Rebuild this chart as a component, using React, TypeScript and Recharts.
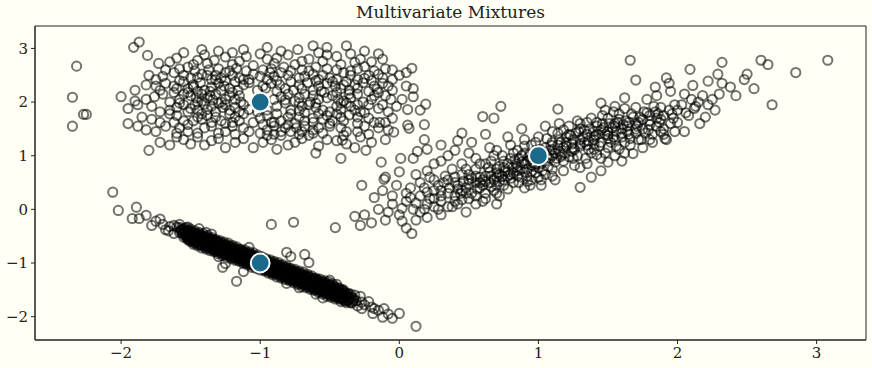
import React from "react";
import {
  ScatterChart,
  Scatter,
  XAxis,
  YAxis,
  ReferenceArea,
} from "recharts";

// points, [x, y]
const upperCluster: [number, number][] = [
  [-1.87, 3.12], [-1.91, 3.02], [-1.12, 2.98], [-0.95, 3.02], [-0.62, 3.05], [-0.52, 3.02], [-0.38, 3.05], [-0.73, 2.98], [-1.3, 2.95], [-1.42, 2.98], [-1.55, 2.92], [-0.25, 2.95],
  [-1.81, 2.87], [-1.4, 2.88], [-1.25, 2.84], [-1.1, 2.85], [-0.88, 2.82], [-0.8, 2.88], [-0.65, 2.8], [-0.45, 2.85], [-0.28, 2.8], [-1.6, 2.82], [-1.0, 2.9], [-0.15, 2.9], [-0.52, 2.88],
  [-1.73, 2.72], [-1.68, 2.6], [-1.52, 2.65], [-1.38, 2.72], [-1.2, 2.7], [-1.05, 2.68], [-0.9, 2.72], [-0.75, 2.7], [-0.6, 2.65], [-0.42, 2.7], [-0.3, 2.62], [-0.2, 2.75], [-0.05, 2.6], [-1.3, 2.62], [-0.98, 2.6], [-0.7, 2.6], [-1.45, 2.78], [-0.55, 2.76], [0.09, 2.63],
  [-1.8, 2.5], [-1.75, 2.42], [-1.62, 2.55], [-1.5, 2.45], [-1.42, 2.52], [-1.35, 2.42], [-1.25, 2.55], [-1.15, 2.45], [-1.05, 2.52], [-0.95, 2.42], [-0.85, 2.55], [-0.72, 2.45], [-0.62, 2.52], [-0.5, 2.45], [-0.4, 2.55], [-0.3, 2.42], [-0.22, 2.5], [-0.12, 2.45], [-1.58, 2.4], [-1.1, 2.58], [-0.78, 2.58], [-0.45, 2.6], [0.0, 2.5], [-0.18, 2.58], [-1.32, 2.5], [-0.9, 2.48], [-0.58, 2.42],
  [-1.9, 2.22], [-1.68, 2.35], [-1.6, 2.25], [-1.48, 2.32], [-1.4, 2.22], [-1.3, 2.35], [-1.22, 2.25], [-1.12, 2.32], [-1.02, 2.22], [-0.92, 2.35], [-0.82, 2.25], [-0.72, 2.32], [-0.62, 2.22], [-0.52, 2.35], [-0.42, 2.25], [-0.32, 2.32], [-0.22, 2.2], [-0.12, 2.35], [-0.05, 2.22], [-1.55, 2.38], [-1.35, 2.28], [-1.18, 2.38], [-0.98, 2.3], [-0.78, 2.38], [-0.58, 2.3], [-0.38, 2.38], [-0.18, 2.3], [0.05, 2.3], [-1.45, 2.2], [-0.88, 2.2], [-1.75, 2.3],
  [-2.0, 2.1], [-1.82, 2.05], [-1.7, 2.15], [-1.58, 2.05], [-1.5, 2.12], [-1.42, 2.02], [-1.32, 2.15], [-1.25, 2.05], [-1.15, 2.12], [-0.85, 2.1], [-0.75, 2.02], [-0.68, 2.15], [-0.58, 2.05], [-0.48, 2.12], [-0.4, 2.02], [-0.3, 2.15], [-0.2, 2.05], [-0.1, 2.12], [0.02, 2.05], [-1.62, 2.18], [-1.38, 2.08], [-0.62, 2.12], [-0.35, 2.08], [-0.15, 2.18], [-0.9, 2.05],
  [-1.95, 1.88], [-1.78, 1.92], [-1.65, 1.85], [-1.55, 1.95], [-1.45, 1.85], [-1.35, 1.92], [-1.22, 1.85], [-1.12, 1.95], [-0.88, 1.92], [-0.78, 1.85], [-0.65, 1.95], [-0.55, 1.85], [-0.45, 1.92], [-0.32, 1.85], [-0.22, 1.95], [-0.08, 1.82], [0.15, 1.85], [-1.52, 1.82], [-1.02, 1.82], [-0.72, 1.98], [-0.38, 1.98], [-1.3, 1.98], [-0.12, 1.95],
  [-2.25, 1.77], [-1.85, 1.72], [-1.72, 1.62], [-1.6, 1.75], [-1.48, 1.65], [-1.38, 1.75], [-1.28, 1.65], [-1.18, 1.72], [-1.05, 1.62], [-0.95, 1.75], [-0.85, 1.65], [-0.72, 1.72], [-0.62, 1.62], [-0.52, 1.75], [-0.4, 1.65], [-0.3, 1.72], [-0.18, 1.62], [-0.05, 1.7], [0.18, 1.58], [-1.42, 1.78], [-1.12, 1.78], [-0.78, 1.78], [-0.45, 1.78], [-0.25, 1.8], [-1.95, 1.6],
  [-2.35, 1.55], [-1.88, 1.55], [-1.75, 1.45], [-1.58, 1.52], [-1.45, 1.42], [-1.35, 1.55], [-1.25, 1.45], [-1.12, 1.52], [-1.0, 1.42], [-0.9, 1.55], [-0.78, 1.45], [-0.68, 1.55], [-0.55, 1.42], [-0.42, 1.52], [-0.3, 1.45], [-0.15, 1.52], [0.07, 1.51], [-1.6, 1.42], [-0.95, 1.48], [-0.62, 1.48], [-0.22, 1.4], [-1.18, 1.4],
  [-1.8, 1.1], [-1.72, 1.25], [-1.55, 1.3], [-1.4, 1.2], [-1.3, 1.32], [-1.18, 1.25], [-1.05, 1.15], [-0.92, 1.3], [-0.8, 1.2], [-0.7, 1.32], [-0.58, 1.18], [-0.45, 1.28], [-0.32, 1.15], [-0.2, 1.25], [-0.6, 1.05], [-1.45, 1.35], [-0.85, 1.38], [-0.1, 1.3], [-0.4, 1.38],
  [-2.35, 2.09], [-2.32, 2.67], [-2.27, 1.77],
];

const upperCore: [number, number][] = [
  [-1.47, 2.58], [-1.37, 2.6], [-1.17, 2.63], [-0.93, 2.55], [-0.83, 2.65], [-0.65, 2.58], [-0.52, 2.62], [-0.35, 2.58], [-0.25, 2.66], [-1.58, 2.62], [-1.22, 2.58], [-0.1, 2.62],
  [-1.48, 2.7], [-1.33, 2.78], [-1.15, 2.76], [-0.95, 2.8], [-0.7, 2.76], [-0.58, 2.92], [-0.35, 2.9], [-0.32, 2.74], [-0.85, 2.95], [-1.2, 2.92], [-1.65, 2.75], [-0.12, 2.8],
  [-1.7, 2.48], [-1.55, 2.5], [-1.45, 2.46], [-1.38, 2.5], [-1.28, 2.45], [-1.2, 2.5], [-1.08, 2.42], [-1.0, 2.48], [-0.88, 2.4], [-0.8, 2.5], [-0.68, 2.48], [-0.55, 2.5], [-0.45, 2.42], [-0.35, 2.5], [-0.25, 2.44], [-0.15, 2.52], [-0.05, 2.42], [0.05, 2.55],
  [-1.82, 2.32], [-1.62, 2.3], [-1.52, 2.25], [-1.43, 2.36], [-1.36, 2.2], [-1.26, 2.3], [-1.16, 2.22], [-1.08, 2.36], [-0.96, 2.26], [-0.86, 2.32], [-0.76, 2.22], [-0.66, 2.36], [-0.56, 2.2], [-0.46, 2.3], [-0.36, 2.22], [-0.26, 2.36], [-0.16, 2.24], [-0.08, 2.3], [0.1, 2.25], [-1.72, 2.22], [-1.25, 2.4], [-0.48, 2.38],
  [-1.9, 2.02], [-1.76, 2.1], [-1.65, 2.0], [-1.55, 2.15], [-1.46, 2.08], [-1.36, 2.12], [-1.28, 2.0], [-1.2, 2.18], [-1.18, 2.05], [-0.8, 2.15], [-0.72, 2.08], [-0.64, 2.0], [-0.54, 2.18], [-0.44, 2.05], [-0.36, 2.15], [-0.26, 2.0], [-0.18, 2.12], [-0.06, 2.05], [0.1, 2.1], [-0.45, 2.18], [-1.45, 2.0], [-1.52, 2.18],
  [-1.88, 1.95], [-1.72, 1.82], [-1.6, 1.9], [-1.5, 1.88], [-1.4, 1.96], [-1.32, 1.82], [-1.18, 1.9], [-1.08, 1.86], [-0.95, 1.85], [-0.82, 1.98], [-0.72, 1.84], [-0.6, 1.9], [-0.5, 1.82], [-0.42, 1.86], [-0.35, 1.92], [-0.28, 1.82], [-0.15, 1.88], [-0.02, 1.92], [-1.25, 1.95], [-0.68, 1.8],
  [-1.78, 1.68], [-1.65, 1.78], [-1.55, 1.65], [-1.45, 1.72], [-1.35, 1.62], [-1.22, 1.78], [-1.15, 1.65], [-1.0, 1.7], [-0.9, 1.62], [-0.8, 1.72], [-0.68, 1.65], [-0.58, 1.78], [-0.48, 1.65], [-0.36, 1.76], [-0.22, 1.7], [-0.1, 1.62], [-1.25, 1.6], [-0.75, 1.6], [-0.55, 1.68],
  [-1.82, 1.48], [-1.68, 1.55], [-1.52, 1.45], [-1.4, 1.52], [-1.3, 1.42], [-1.2, 1.55], [-1.08, 1.45], [-0.98, 1.58], [-0.85, 1.45], [-0.74, 1.52], [-0.62, 1.42], [-0.5, 1.55], [-0.38, 1.45], [-0.25, 1.55], [-0.08, 1.48], [-0.72, 1.4], [-0.8, 1.58],
  [-1.65, 1.2], [-1.5, 1.22], [-1.35, 1.28], [-1.25, 1.15], [-1.12, 1.32], [-0.98, 1.25], [-0.88, 1.12], [-0.75, 1.25], [-0.65, 1.38], [-0.52, 1.3], [-0.38, 1.22], [-0.28, 1.35], [-1.6, 1.35], [-0.95, 1.38],
  [-1.42, 2.15], [-1.34, 2.04], [-1.28, 2.22], [-1.22, 2.12], [-1.14, 2.0], [-1.47, 1.95], [-1.38, 1.86], [-1.27, 1.9], [-1.15, 1.82], [-1.42, 1.68], [-1.32, 1.72], [-1.2, 1.62], [-1.48, 2.28], [-1.32, 2.42], [-1.12, 2.42], [-0.82, 2.04], [-0.7, 1.92], [-0.6, 1.98], [-0.52, 2.08], [-0.42, 1.98], [-0.3, 1.95], [-0.62, 1.7], [-0.5, 1.6], [-0.42, 1.72], [-0.3, 1.6], [-0.7, 2.25], [-0.6, 2.4], [-0.4, 2.32], [-0.3, 2.26], [-0.82, 1.52], [-0.7, 1.45], [-0.58, 1.52], [-0.9, 1.4], [-0.88, 1.78], [-0.92, 1.62], [-1.58, 1.98], [-1.62, 1.62], [-1.52, 1.58], [-0.2, 2.4], [-0.92, 2.62],
];

const diagonalCluster: [number, number][] = [
  [3.08, 2.78], [2.85, 2.55], [2.6, 2.78], [2.65, 2.7], [2.5, 2.52], [2.48, 2.42], [2.55, 2.25], [2.68, 1.95], [2.32, 2.74], [2.29, 2.52], [2.32, 2.35], [2.3, 2.15], [2.22, 2.39], [2.11, 2.31], [2.09, 2.61], [1.94, 2.35], [1.84, 2.28], [1.7, 2.41], [1.66, 2.78], [2.16, 1.6], [2.27, 1.85], [2.05, 2.15], [2.15, 2.0], [1.95, 2.2], [1.85, 2.12], [1.92, 2.45], [2.0, 1.85], [2.05, 1.45], [2.12, 1.88], [1.98, 1.95], [1.88, 1.9], [2.08, 1.75], [2.2, 1.72], [2.42, 2.12], [2.38, 2.28], [1.91, 1.32], [1.68, 1.04], [1.45, 1.98], [1.14, 1.87], [1.38, 0.6], [1.3, 0.41], [1.78, 2.05], [1.62, 2.08], [1.55, 1.92], [2.25, 2.05],
  [1.2, 1.25], [1.25, 1.15], [1.3, 1.3], [1.35, 1.2], [1.4, 1.35], [1.45, 1.25], [1.5, 1.45], [1.55, 1.3], [1.6, 1.5], [1.65, 1.4], [1.7, 1.6], [1.75, 1.5], [1.8, 1.65], [1.85, 1.55], [1.9, 1.75], [1.95, 1.6], [1.22, 1.4], [1.3, 1.5], [1.38, 1.05], [1.42, 1.55], [1.5, 1.15], [1.55, 1.6], [1.62, 1.25], [1.68, 1.72], [1.72, 1.3], [1.78, 1.8], [1.82, 1.4], [1.88, 1.45], [1.92, 1.3], [1.25, 0.95], [1.35, 0.85], [1.45, 0.95], [1.5, 1.7], [1.58, 1.78], [1.62, 1.05], [1.4, 1.45], [1.28, 1.65], [1.15, 1.6], [1.48, 1.85], [1.7, 1.9], [1.8, 1.3], [1.6, 0.9], [1.45, 0.72], [1.3, 0.78], [1.55, 1.0], [1.75, 1.15],
  [0.6, 0.55], [0.65, 0.7], [0.7, 0.6], [0.72, 0.8], [0.75, 0.9], [0.78, 0.7], [0.8, 0.95], [0.82, 0.78], [0.85, 0.62], [0.88, 0.88], [0.9, 1.05], [0.92, 0.75], [0.95, 0.95], [0.98, 1.1], [1.02, 0.85], [1.05, 1.15], [1.08, 0.95], [1.1, 1.25], [1.12, 1.05], [1.15, 1.3], [1.18, 0.9], [0.62, 0.85], [0.68, 1.0], [0.75, 0.45], [0.85, 1.1], [0.95, 0.55], [1.05, 0.65], [1.1, 0.75], [1.18, 1.15], [0.7, 1.1], [0.8, 1.2], [0.9, 1.3], [1.0, 1.35], [1.1, 1.45], [0.95, 1.2], [0.55, 0.75], [0.58, 0.4], [0.68, 0.35], [0.82, 0.5], [0.9, 0.4], [1.0, 0.6], [1.12, 0.55], [1.02, 0.45], [0.78, 1.35], [0.88, 1.5], [1.05, 1.55], [0.72, 0.25],
  [0.3, 0.35], [0.35, 0.55], [0.4, 0.25], [0.42, 0.45], [0.48, 0.4], [0.5, 0.65], [0.52, 0.3], [0.55, 0.5], [0.58, 0.6], [0.62, 0.3], [0.65, 0.5], [0.7, 0.45], [0.72, 0.65], [0.75, 0.55], [0.8, 0.65], [0.85, 0.8], [0.88, 0.6], [0.92, 0.9], [0.95, 0.7], [0.98, 0.85], [0.4, 0.6], [0.32, 0.5], [0.25, 0.2], [0.45, 0.18], [0.38, 0.05],
  [0.5, 0.55], [0.45, 0.35], [0.4, 0.5], [0.35, 0.3], [0.3, 0.15], [0.25, 0.35], [0.2, 0.1], [0.15, 0.25], [0.1, 0.0], [0.05, 0.15], [0.0, -0.1], [-0.05, 0.1], [-0.1, -0.2], [-0.15, 0.0], [-0.2, -0.25], [-0.25, -0.1], [0.12, -0.2], [0.05, -0.35], [-0.28, -0.3], [-0.46, -0.34], [0.3, -0.1], [0.35, 0.05], [0.2, -0.15], [0.42, 0.1], [0.5, 0.2], [0.55, 0.1], [0.48, -0.05], [0.25, 0.55], [0.15, 0.5], [0.08, 0.4], [-0.02, 0.45], [0.38, 0.75], [0.3, 0.9], [0.2, 0.72], [0.45, 0.85], [0.0, 0.7], [0.1, 0.95], [-0.1, 0.6], [0.55, 0.95], [0.65, 1.15], [0.5, 1.05], [0.4, 1.1], [0.3, 1.2], [0.62, 1.4], [0.45, 0.65], [0.22, 0.2], [0.08, 0.22], [-0.08, -0.05], [0.02, -0.22], [0.18, 0.0], [0.28, 0.0], [0.6, 0.15], [0.7, 0.1],
  [0.19, 1.96], [0.06, 1.86], [0.06, 1.57], [-0.04, 1.44], [-0.14, 1.62], [0.45, 1.42], [0.6, 1.73], [0.68, 1.7], [0.73, 1.92], [-0.24, 1.1], [-0.41, 1.29], [-0.42, 0.95], [0.13, 1.08], [0.2, 1.12], [0.01, 0.95], [-0.13, 0.88], [-0.11, 0.56], [-0.27, 0.45], [-0.32, -0.13], [-0.18, 0.22], [0.09, -0.45], [0.02, 0.02],
];

const diagonalCore: [number, number][] = [
  [0.3, 0.25], [0.36, 0.4], [0.44, 0.3], [0.5, 0.48], [0.56, 0.38], [0.62, 0.62], [0.66, 0.42], [0.7, 0.75], [0.74, 0.62], [0.78, 0.85], [0.82, 0.68], [0.86, 0.95], [0.9, 0.7], [0.94, 1.02], [0.97, 0.8], [1.0, 0.95], [1.04, 1.05], [1.07, 0.8], [1.1, 1.0], [1.14, 1.2], [1.17, 1.02], [1.2, 1.35], [1.24, 1.08], [1.27, 1.42], [1.3, 1.18], [1.33, 1.48], [1.36, 1.28], [1.4, 1.12], [1.43, 1.4], [1.46, 1.6], [1.5, 1.32], [1.53, 1.52], [1.56, 1.18], [1.6, 1.42], [1.63, 1.65], [1.66, 1.32], [1.7, 1.5], [1.73, 1.72], [1.77, 1.42], [1.8, 1.58], [1.84, 1.82], [1.87, 1.62], [1.9, 1.5], [1.94, 1.85], [1.97, 1.7], [2.0, 1.62], [2.03, 1.95], [2.06, 1.8], [2.1, 2.05], [2.13, 1.92], [2.18, 2.12], [2.22, 1.95],
  [0.52, 0.58], [0.6, 0.45], [0.68, 0.55], [0.76, 0.72], [0.84, 0.85], [0.92, 0.62], [1.0, 0.78], [1.08, 1.1], [1.16, 0.98], [1.24, 1.22], [1.32, 1.35], [1.4, 1.22], [1.48, 1.4], [1.56, 1.45], [1.64, 1.55], [1.72, 1.62], [1.8, 1.75], [1.88, 1.68], [1.96, 1.78],
  [0.58, 0.85], [0.66, 0.9], [0.74, 1.0], [0.82, 1.05], [0.9, 1.18], [0.98, 1.25], [1.06, 1.32], [1.14, 1.42], [1.22, 1.55], [1.3, 1.6], [1.38, 1.7], [1.46, 1.75], [1.54, 1.82], [1.62, 1.88],
  [0.62, 0.2], [0.7, 0.3], [0.78, 0.38], [0.86, 0.5], [0.94, 0.45], [1.02, 0.55], [1.1, 0.62], [1.18, 0.72], [1.26, 0.82], [1.34, 0.95], [1.42, 1.02], [1.5, 0.88], [1.58, 1.12], [1.66, 1.2], [1.74, 1.3], [1.82, 1.25], [1.9, 1.4], [1.98, 1.45],
  [0.2, 0.32], [0.28, 0.45], [0.12, 0.12], [0.18, 0.4], [0.05, 0.3], [-0.05, 0.25], [0.25, 0.05], [0.4, 0.15], [0.33, 0.62], [0.48, 0.75], [0.22, 0.6], [0.12, 0.65], [0.55, 0.25], [0.15, -0.05], [-0.12, 0.35], [0.35, 1.0], [0.25, 0.85], [0.52, 1.25], [0.42, 1.28], [0.18, 1.3],
  [0.85, 0.72], [0.9, 0.85], [0.95, 0.82], [1.0, 1.05], [1.05, 0.9], [1.1, 1.12], [1.15, 1.08], [1.2, 1.18], [1.25, 1.3], [1.3, 1.22], [1.35, 1.4], [1.4, 1.3], [1.45, 1.48], [1.5, 1.38], [1.55, 1.55], [1.6, 1.35], [1.65, 1.62], [1.7, 1.42], [0.7, 0.68], [0.75, 0.78], [0.8, 0.58], [0.62, 0.52], [0.55, 0.62], [0.48, 0.3], [0.42, 0.38], [1.28, 1.0], [1.18, 1.48], [0.98, 0.68], [1.42, 1.62], [1.58, 1.68], [1.12, 0.88], [1.36, 1.12], [0.88, 1.0], [1.75, 1.68], [1.85, 1.7], [1.52, 1.25],
  [0.78, 0.62], [0.83, 0.92], [0.87, 0.75], [0.93, 0.98], [0.96, 0.88], [1.01, 1.12], [1.03, 0.72], [1.06, 1.0], [1.09, 1.2], [1.13, 0.95], [1.16, 1.25], [1.19, 1.05], [1.23, 1.38], [1.26, 1.12], [1.29, 1.45], [1.33, 1.25], [1.37, 1.5], [1.41, 1.38], [1.44, 1.18], [1.47, 1.52], [1.51, 1.6], [1.54, 1.35], [1.57, 1.62], [1.61, 1.58], [1.64, 1.45], [1.67, 1.78], [1.71, 1.55], [1.76, 1.82], [1.79, 1.48], [1.83, 1.92], [1.86, 1.78], [0.72, 0.52], [0.66, 0.62], [0.58, 0.5], [0.64, 0.78], [0.46, 0.52], [1.35, 1.62], [1.22, 0.98], [0.92, 0.52], [1.48, 1.05],
];

const bandCluster: [number, number][] = [
  [-1.6, -0.33], [-1.57, -0.37], [-1.55, -0.38], [-1.52, -0.41], [-1.5, -0.42], [-1.47, -0.46], [-1.45, -0.47], [-1.42, -0.5], [-1.4, -0.53], [-1.37, -0.55], [-1.35, -0.57], [-1.32, -0.6], [-1.3, -0.62], [-1.27, -0.66], [-1.25, -0.67], [-1.22, -0.7], [-1.2, -0.72], [-1.17, -0.76], [-1.15, -0.77], [-1.12, -0.8], [-1.1, -0.83], [-1.07, -0.85], [-1.05, -0.87], [-1.02, -0.91], [-1.0, -0.92], [-0.97, -0.95], [-0.95, -0.97], [-0.92, -1.01], [-0.9, -1.02], [-0.87, -1.05], [-0.85, -1.08], [-0.82, -1.1], [-0.8, -1.12], [-0.77, -1.16], [-0.75, -1.17], [-0.72, -1.2], [-0.7, -1.23], [-0.67, -1.25], [-0.65, -1.27], [-0.62, -1.31], [-0.6, -1.32], [-0.57, -1.35], [-0.55, -1.38], [-0.52, -1.4], [-0.5, -1.42], [-0.47, -1.46], [-0.45, -1.47], [-0.42, -1.5], [-0.4, -1.53], [-0.37, -1.56], [-0.35, -1.58],
  [-1.58, -0.43], [-1.56, -0.44], [-1.53, -0.48], [-1.51, -0.5], [-1.48, -0.51], [-1.46, -0.55], [-1.43, -0.56], [-1.41, -0.6], [-1.38, -0.61], [-1.36, -0.65], [-1.33, -0.66], [-1.31, -0.7], [-1.28, -0.71], [-1.26, -0.75], [-1.23, -0.76], [-1.21, -0.8], [-1.18, -0.81], [-1.16, -0.85], [-1.13, -0.86], [-1.11, -0.9], [-1.08, -0.91], [-1.06, -0.95], [-1.03, -0.96], [-1.01, -1.0], [-0.98, -1.01], [-0.96, -1.05], [-0.93, -1.06], [-0.91, -1.1], [-0.88, -1.11], [-0.86, -1.15], [-0.83, -1.16], [-0.81, -1.2], [-0.78, -1.21], [-0.76, -1.25], [-0.73, -1.26], [-0.71, -1.3], [-0.68, -1.31], [-0.66, -1.35], [-0.63, -1.36], [-0.61, -1.4], [-0.58, -1.41], [-0.56, -1.45], [-0.53, -1.46], [-0.51, -1.5], [-0.48, -1.51], [-0.46, -1.55], [-0.43, -1.56], [-0.41, -1.6], [-0.38, -1.61], [-0.36, -1.65], [-0.33, -1.66], [-0.31, -1.7],
  [-1.55, -0.52], [-1.52, -0.55], [-1.5, -0.57], [-1.47, -0.6], [-1.45, -0.62], [-1.42, -0.66], [-1.4, -0.67], [-1.37, -0.7], [-1.35, -0.72], [-1.32, -0.76], [-1.3, -0.77], [-1.27, -0.8], [-1.25, -0.82], [-1.22, -0.85], [-1.2, -0.87], [-1.17, -0.9], [-1.15, -0.92], [-1.12, -0.96], [-1.1, -0.97], [-1.07, -1.0], [-1.05, -1.02], [-1.02, -1.05], [-1.0, -1.07], [-0.97, -1.1], [-0.95, -1.12], [-0.92, -1.16], [-0.9, -1.17], [-0.87, -1.2], [-0.85, -1.22], [-0.82, -1.25], [-0.8, -1.27], [-0.77, -1.3], [-0.75, -1.32], [-0.72, -1.36], [-0.7, -1.37], [-0.67, -1.4], [-0.65, -1.42], [-0.62, -1.45], [-0.6, -1.47], [-0.57, -1.5], [-0.55, -1.52], [-0.52, -1.56], [-0.5, -1.57], [-0.47, -1.6], [-0.45, -1.62], [-0.42, -1.65], [-0.4, -1.67], [-0.37, -1.7],
  [-1.5, -0.37], [-1.47, -0.4], [-1.44, -0.43], [-1.41, -0.45], [-1.38, -0.49], [-1.35, -0.52], [-1.32, -0.56], [-1.29, -0.58], [-1.26, -0.61], [-1.23, -0.63], [-1.2, -0.67], [-1.17, -0.7], [-1.14, -0.74], [-1.11, -0.76], [-1.08, -0.79], [-1.05, -0.81], [-1.02, -0.85], [-0.99, -0.88], [-0.96, -0.92], [-0.93, -0.94], [-0.9, -0.97], [-0.87, -0.99], [-0.84, -1.03], [-0.81, -1.06], [-0.78, -1.1], [-0.75, -1.12], [-0.72, -1.15], [-0.69, -1.17], [-0.66, -1.21], [-0.63, -1.24], [-0.6, -1.28], [-0.57, -1.3], [-0.54, -1.33], [-0.51, -1.35], [-0.48, -1.39],
  [-1.48, -0.65], [-1.45, -0.68], [-1.42, -0.72], [-1.39, -0.74], [-1.36, -0.77], [-1.33, -0.79], [-1.3, -0.83], [-1.27, -0.86], [-1.24, -0.9], [-1.21, -0.92], [-1.18, -0.95], [-1.15, -0.97], [-1.12, -1.01], [-1.09, -1.04], [-1.06, -1.08], [-1.03, -1.1], [-1.0, -1.13], [-0.97, -1.15], [-0.94, -1.19], [-0.91, -1.22], [-0.88, -1.26], [-0.85, -1.28], [-0.82, -1.31], [-0.79, -1.33], [-0.76, -1.37], [-0.73, -1.4], [-0.7, -1.44], [-0.67, -1.46], [-0.64, -1.49], [-0.61, -1.51], [-0.58, -1.55], [-0.55, -1.58], [-0.52, -1.62], [-0.49, -1.64], [-0.46, -1.67],
  [-1.54, -0.43], [-1.5, -0.47], [-1.46, -0.51], [-1.42, -0.55], [-1.38, -0.59], [-1.34, -0.63], [-1.3, -0.67], [-1.26, -0.71], [-1.22, -0.75], [-1.18, -0.79], [-1.14, -0.83], [-1.1, -0.87], [-1.06, -0.91], [-1.02, -0.95], [-0.98, -0.99], [-0.94, -1.03], [-0.9, -1.07], [-0.86, -1.11], [-0.82, -1.15], [-0.78, -1.19], [-0.74, -1.23], [-0.7, -1.27], [-0.66, -1.31], [-0.62, -1.35], [-0.58, -1.39], [-0.54, -1.43], [-0.5, -1.47], [-0.46, -1.51], [-0.42, -1.55], [-0.38, -1.59],
  [-1.52, -0.52], [-1.48, -0.56], [-1.44, -0.6], [-1.4, -0.64], [-1.36, -0.68], [-1.32, -0.72], [-1.28, -0.76], [-1.24, -0.8], [-1.2, -0.84], [-1.16, -0.88], [-1.12, -0.92], [-1.08, -0.96], [-1.04, -1.0], [-1.0, -1.04], [-0.96, -1.08], [-0.92, -1.12], [-0.88, -1.16], [-0.84, -1.2], [-0.8, -1.24], [-0.76, -1.28], [-0.72, -1.32], [-0.68, -1.36], [-0.64, -1.4], [-0.6, -1.44], [-0.56, -1.48], [-0.52, -1.52], [-0.48, -1.56], [-0.44, -1.6], [-0.4, -1.64],
  [-1.545, -0.355], [-1.515, -0.385], [-1.485, -0.415], [-1.455, -0.445], [-1.425, -0.475], [-1.395, -0.505], [-1.365, -0.535], [-1.335, -0.565], [-1.305, -0.595], [-1.275, -0.625], [-1.245, -0.655], [-1.215, -0.685], [-1.185, -0.715], [-1.155, -0.745], [-1.125, -0.775], [-1.095, -0.805], [-1.065, -0.835], [-1.035, -0.865], [-1.005, -0.895], [-0.975, -0.925], [-0.945, -0.955], [-0.915, -0.985], [-0.885, -1.015], [-0.855, -1.045], [-0.825, -1.075], [-0.795, -1.105], [-0.765, -1.135], [-0.735, -1.165], [-0.705, -1.195], [-0.675, -1.225], [-0.645, -1.255], [-0.615, -1.285], [-0.585, -1.315], [-0.555, -1.345], [-0.525, -1.375], [-0.495, -1.405], [-0.465, -1.435], [-0.435, -1.465], [-0.405, -1.495],
  [-1.505, -0.595], [-1.475, -0.625], [-1.445, -0.655], [-1.415, -0.685], [-1.385, -0.715], [-1.355, -0.745], [-1.325, -0.775], [-1.295, -0.805], [-1.265, -0.835], [-1.235, -0.865], [-1.205, -0.895], [-1.175, -0.925], [-1.145, -0.955], [-1.115, -0.985], [-1.085, -1.015], [-1.055, -1.045], [-1.025, -1.075], [-0.995, -1.105], [-0.965, -1.135], [-0.935, -1.165], [-0.905, -1.195], [-0.875, -1.225], [-0.845, -1.255], [-0.815, -1.285], [-0.785, -1.315], [-0.755, -1.345], [-0.725, -1.375], [-0.695, -1.405], [-0.665, -1.435], [-0.635, -1.465], [-0.605, -1.495], [-0.575, -1.525], [-0.545, -1.555], [-0.515, -1.585], [-0.485, -1.615], [-0.455, -1.645], [-0.425, -1.675], [-0.395, -1.705],
  [-1.565, -0.385], [-1.535, -0.415], [-1.505, -0.445], [-1.475, -0.475], [-1.445, -0.505], [-1.415, -0.535], [-1.385, -0.565], [-1.355, -0.595], [-1.325, -0.625], [-1.295, -0.655], [-1.265, -0.685], [-1.235, -0.715], [-1.205, -0.745], [-1.175, -0.775], [-1.145, -0.805], [-1.115, -0.835], [-1.085, -0.865], [-1.055, -0.895], [-1.025, -0.925], [-0.995, -0.955], [-0.965, -0.985], [-0.935, -1.015], [-0.905, -1.045], [-0.875, -1.075], [-0.845, -1.105], [-0.815, -1.135], [-0.785, -1.165], [-0.755, -1.195], [-0.725, -1.225], [-0.695, -1.255], [-0.665, -1.285], [-0.635, -1.315], [-0.605, -1.345], [-0.575, -1.375], [-0.545, -1.405], [-0.515, -1.435], [-0.485, -1.465], [-0.455, -1.495], [-0.425, -1.525], [-0.395, -1.555], [-0.365, -1.585],
  [-1.535, -0.515], [-1.505, -0.545], [-1.475, -0.575], [-1.445, -0.605], [-1.415, -0.635], [-1.385, -0.665], [-1.355, -0.695], [-1.325, -0.725], [-1.295, -0.755], [-1.265, -0.785], [-1.235, -0.815], [-1.205, -0.845], [-1.175, -0.875], [-1.145, -0.905], [-1.115, -0.935], [-1.085, -0.965], [-1.055, -0.995], [-1.025, -1.025], [-0.995, -1.055], [-0.965, -1.085], [-0.935, -1.115], [-0.905, -1.145], [-0.875, -1.175], [-0.845, -1.205], [-0.815, -1.235], [-0.785, -1.265], [-0.755, -1.295], [-0.725, -1.325], [-0.695, -1.355], [-0.665, -1.385], [-0.635, -1.415], [-0.605, -1.445], [-0.575, -1.475], [-0.545, -1.505], [-0.515, -1.535], [-0.485, -1.565], [-0.455, -1.595], [-0.425, -1.625], [-0.395, -1.655], [-0.365, -1.685], [-0.335, -1.715],
  [-2.06, 0.32], [-2.02, -0.02], [-1.89, 0.04], [-1.92, -0.17], [-1.87, -0.17], [-1.82, -0.11], [-0.92, -0.28], [-0.76, -0.24], [-1.27, -1.08], [-1.25, -1.01], [-1.17, -1.34], [-1.12, -1.16], [-0.81, -0.8], [-0.78, -0.88], [-0.68, -0.84], [-0.65, -0.99], [-0.81, -1.38], [-0.5, -1.32], [-0.27, -1.85], [-0.18, -1.85], [-0.11, -1.85], [0.0, -1.94], [-0.05, -2.03], [-0.12, -2.01], [-0.19, -1.94], [-0.27, -1.73], [-0.34, -1.75], [-1.53, -0.34], [-1.39, -0.43], [-1.08, -0.71], [0.12, -2.18],
  [-1.65, -0.32], [-1.7, -0.28], [-1.75, -0.22], [-1.68, -0.38], [-1.62, -0.45], [-1.78, -0.3], [-1.72, -0.18], [-0.28, -1.62], [-0.25, -1.78], [-0.22, -1.72], [-0.3, -1.8], [-0.2, -1.82], [-0.15, -1.88], [-0.08, -1.95],
  [-1.62, -0.3], [-1.58, -0.28], [-1.66, -0.4], [-1.52, -0.33], [-1.44, -0.36], [-0.38, -1.74], [-0.42, -1.72], [-0.32, -1.6], [-0.45, -1.4], [-0.6, -1.58], [-1.35, -0.46], [-1.3, -0.88], [-0.72, -1.46], [-0.55, -1.65],
];

// extra rows filling the dense centre of the narrow band
const bandFill: [number, number][] = [
  [-1.58, -0.335], [-1.55, -0.365], [-1.52, -0.395], [-1.49, -0.425], [-1.46, -0.455], [-1.43, -0.485], [-1.4, -0.515], [-1.37, -0.545], [-1.34, -0.575], [-1.31, -0.605], [-1.28, -0.635], [-1.25, -0.665], [-1.22, -0.695], [-1.19, -0.725], [-1.16, -0.755], [-1.13, -0.785], [-1.1, -0.815], [-1.07, -0.845], [-1.04, -0.875], [-1.01, -0.905], [-0.98, -0.935], [-0.95, -0.965], [-0.92, -0.995], [-0.89, -1.025], [-0.86, -1.055], [-0.83, -1.085], [-0.8, -1.115], [-0.77, -1.145], [-0.74, -1.175], [-0.71, -1.205], [-0.68, -1.235], [-0.65, -1.265], [-0.62, -1.295], [-0.59, -1.325], [-0.56, -1.355], [-0.53, -1.385], [-0.5, -1.415], [-0.47, -1.445], [-0.44, -1.475], [-0.41, -1.505],
  [-1.52, -0.565], [-1.49, -0.595], [-1.46, -0.625], [-1.43, -0.655], [-1.4, -0.685], [-1.37, -0.715], [-1.34, -0.745], [-1.31, -0.775], [-1.28, -0.805], [-1.25, -0.835], [-1.22, -0.865], [-1.19, -0.895], [-1.16, -0.925], [-1.13, -0.955], [-1.1, -0.985], [-1.07, -1.015], [-1.04, -1.045], [-1.01, -1.075], [-0.98, -1.105], [-0.95, -1.135], [-0.92, -1.165], [-0.89, -1.195], [-0.86, -1.225], [-0.83, -1.255], [-0.8, -1.285], [-0.77, -1.315], [-0.74, -1.345], [-0.71, -1.375], [-0.68, -1.405], [-0.65, -1.435], [-0.62, -1.465], [-0.59, -1.495], [-0.56, -1.525], [-0.53, -1.555], [-0.5, -1.585], [-0.47, -1.615], [-0.44, -1.645], [-0.41, -1.675], [-0.38, -1.705], [-0.35, -1.735],
  [-1.575, -0.405], [-1.545, -0.435], [-1.515, -0.465], [-1.485, -0.495], [-1.455, -0.525], [-1.425, -0.555], [-1.395, -0.585], [-1.365, -0.615], [-1.335, -0.645], [-1.305, -0.675], [-1.275, -0.705], [-1.245, -0.735], [-1.215, -0.765], [-1.185, -0.795], [-1.155, -0.825], [-1.125, -0.855], [-1.095, -0.885], [-1.065, -0.915], [-1.035, -0.945], [-1.005, -0.975], [-0.975, -1.005], [-0.945, -1.035], [-0.915, -1.065], [-0.885, -1.095], [-0.855, -1.125], [-0.825, -1.155], [-0.795, -1.185], [-0.765, -1.215], [-0.735, -1.245], [-0.705, -1.275], [-0.675, -1.305], [-0.645, -1.335], [-0.615, -1.365], [-0.585, -1.395], [-0.555, -1.425], [-0.525, -1.455], [-0.495, -1.485], [-0.465, -1.515], [-0.435, -1.545], [-0.405, -1.575], [-0.375, -1.605], [-0.345, -1.635],
  [-1.555, -0.465], [-1.525, -0.495], [-1.495, -0.525], [-1.465, -0.555], [-1.435, -0.585], [-1.405, -0.615], [-1.375, -0.645], [-1.345, -0.675], [-1.315, -0.705], [-1.285, -0.735], [-1.255, -0.765], [-1.225, -0.795], [-1.195, -0.825], [-1.165, -0.855], [-1.135, -0.885], [-1.105, -0.915], [-1.075, -0.945], [-1.045, -0.975], [-1.015, -1.005], [-0.985, -1.035], [-0.955, -1.065], [-0.925, -1.095], [-0.895, -1.125], [-0.865, -1.155], [-0.835, -1.185], [-0.805, -1.215], [-0.775, -1.245], [-0.745, -1.275], [-0.715, -1.305], [-0.685, -1.335], [-0.655, -1.365], [-0.625, -1.395], [-0.595, -1.425], [-0.565, -1.455], [-0.535, -1.485], [-0.505, -1.515], [-0.475, -1.545], [-0.445, -1.575], [-0.415, -1.605], [-0.385, -1.635], [-0.355, -1.665], [-0.325, -1.695],
];

const centers: [number, number][] = [
  [-1, 2],
  [1, 1],
  [-1, -1],
];

const xTicks = [-2, -1, 0, 1, 2, 3];
const yTicks = [-2, -1, 0, 1, 2, 3];

const X_DOMAIN: [number, number] = [-2.619, 3.355];
const Y_DOMAIN: [number, number] = [-2.435, 3.418];

const BG = "#fffff5";
const FONT = "'DejaVu Serif', serif";

const toObjs = (arr: [number, number][]) => arr.map(([x, y]) => ({ x, y }));
const points = [
  ...upperCluster,
  ...upperCore,
  ...diagonalCluster,
  ...diagonalCore,
  ...bandCluster,
  ...bandFill,
];

const fmt = (v: number) => String(v).replace("-", "\u2212");

const OpenCircle = (props: any) => (
  <circle
    cx={props.cx}
    cy={props.cy}
    r={4.6}
    fill="none"
    stroke="#000"
    strokeOpacity={0.55}
    strokeWidth={2}
  />
);

const CenterDot = (props: any) => (
  <circle cx={props.cx} cy={props.cy} r={9.4} fill="#1b6a8b" stroke="#fff" strokeWidth={2} />
);

export default function App() {
  const tick = { fill: "#222", fontSize: 15, fontFamily: FONT };
  return (
    <div
      style={{
        position: "fixed",
        left: 0,
        top: 0,
        width: 872,
        height: 368,
        background: BG,
      }}
    >
      <div
        style={{
          position: "absolute",
          left: 35,
          width: 831,
          top: 2,
          textAlign: "center",
          fontFamily: FONT,
          fontSize: 17,
          color: "#222",
        }}
      >
        Multivariate Mixtures
      </div>
      <ScatterChart width={872} height={368} margin={{ top: 26, right: 6, bottom: 0, left: 0 }}>
        <XAxis
          type="number"
          dataKey="x"
          domain={X_DOMAIN}
          ticks={xTicks}
          allowDataOverflow
          height={28}
          tick={tick}
          tickFormatter={fmt}
          tickSize={4}
          tickMargin={3}
          stroke="#222"
        />
        <YAxis
          type="number"
          dataKey="y"
          domain={Y_DOMAIN}
          ticks={yTicks}
          allowDataOverflow
          width={35}
          tick={tick}
          tickFormatter={fmt}
          tickSize={4}
          tickMargin={3}
          stroke="#222"
        />
        <ReferenceArea
          x1={X_DOMAIN[0]}
          x2={X_DOMAIN[1]}
          y1={Y_DOMAIN[0]}
          y2={Y_DOMAIN[1]}
          fill="none"
          stroke="#222"
          strokeOpacity={1}
        />
        <Scatter data={toObjs(points)} shape={OpenCircle} isAnimationActive={false} />
        <Scatter data={toObjs(centers)} shape={CenterDot} isAnimationActive={false} />
      </ScatterChart>
    </div>
  );
}
